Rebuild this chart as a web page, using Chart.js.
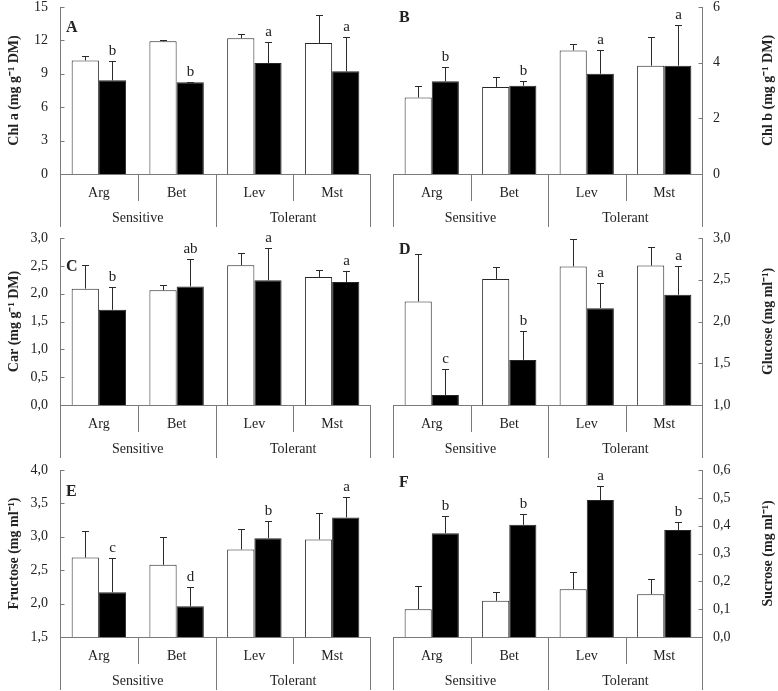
<!DOCTYPE html>
<html><head><meta charset="utf-8">
<script src="https://cdn.jsdelivr.net/npm/chart.js@4/dist/chart.umd.min.js"></script>
<style>
html,body{margin:0;padding:0;background:#fff;}
#wrap{position:relative;width:778px;height:691px;overflow:hidden;background:#fff;}
#wrap canvas{position:absolute;}
</style></head><body><div id="wrap"></div>
<script>
// ---------- DATA ----------
const categories = ['Arg', 'Bet', 'Lev', 'Mst'];
const groups = ['Sensitive', 'Tolerant'];
const groupOf = [0, 0, 1, 1];

// A: Chl a
const chlA_ticks = [0, 3, 6, 9, 12, 15];
const chlA_ctrl = [10.2, 11.92, 12.2, 11.77];
const chlA_ctrlErr = [0.37, 0.08, 0.4, 2.55];
const chlA_trt = [8.41, 8.23, 9.97, 9.22];
const chlA_trtErr = [1.7, 0.07, 1.9, 3.1];
const chlA_letters = ['b', 'b', 'a', 'a'];

// B: Chl b
const chlB_ticks = [0, 2, 4, 6];
const chlB_ctrl = [2.75, 3.13, 4.44, 3.89];
const chlB_ctrlErr = [0.4, 0.36, 0.23, 1.03];
const chlB_trt = [3.33, 3.17, 3.6, 3.89];
const chlB_trtErr = [0.51, 0.18, 0.84, 1.48];
const chlB_letters = ['b', 'b', 'a', 'a'];

// C: Car
const car_ticks = [0.0, 0.5, 1.0, 1.5, 2.0, 2.5, 3.0];
const car_ctrl = [2.09, 2.06, 2.51, 2.3];
const car_ctrlErr = [0.42, 0.1, 0.22, 0.12];
const car_trt = [1.71, 2.13, 2.24, 2.21];
const car_trtErr = [0.41, 0.49, 0.58, 0.19];
const car_letters = ['b', 'ab', 'a', 'a'];

// D: Glucose
const glu_ticks = [1.0, 1.5, 2.0, 2.5, 3.0];
const glu_ctrl = [2.24, 2.51, 2.66, 2.67];
const glu_ctrlErr = [0.57, 0.14, 0.33, 0.22];
const glu_trt = [1.12, 1.54, 2.16, 2.32];
const glu_trtErr = [0.31, 0.35, 0.3, 0.34];
const glu_letters = ['c', 'b', 'a', 'a'];

// E: Fructose
const fru_ticks = [1.5, 2.0, 2.5, 3.0, 3.5, 4.0];
const fru_ctrl = [2.69, 2.58, 2.81, 2.96];
const fru_ctrlErr = [0.4, 0.41, 0.31, 0.4];
const fru_trt = [2.17, 1.96, 2.98, 3.29];
const fru_trtErr = [0.52, 0.29, 0.26, 0.31];
const fru_letters = ['c', 'd', 'b', 'a'];

// F: Sucrose
const suc_ticks = [0.0, 0.1, 0.2, 0.3, 0.4, 0.5, 0.6];
const suc_ctrl = [0.1, 0.13, 0.172, 0.154];
const suc_ctrlErr = [0.085, 0.032, 0.063, 0.054];
const suc_trt = [0.373, 0.403, 0.492, 0.384];
const suc_trtErr = [0.062, 0.039, 0.052, 0.028];
const suc_letters = ['b', 'b', 'a', 'b'];

// ---------- LAYOUT / STYLE ----------
const FONT = "'Liberation Serif', 'Times New Roman', serif";
const AXIS_COLOR = '#7a7a7a';
const TEXT_COLOR = '#222';
const BAR_EDGE = '#262626';

const panels = [
  {label:'A', left:true,  row:0, title:'Chl a (mg g\u207B\u00B9 DM)', ticks:chlA_ticks, dec:0, ctrl:chlA_ctrl, ctrlErr:chlA_ctrlErr, trt:chlA_trt, trtErr:chlA_trtErr, letters:chlA_letters, labDy:21},
  {label:'B', left:false, row:0, title:'Chl b (mg g\u207B\u00B9 DM)', ticks:chlB_ticks, dec:0, ctrl:chlB_ctrl, ctrlErr:chlB_ctrlErr, trt:chlB_trt, trtErr:chlB_trtErr, letters:chlB_letters, labDy:11},
  {label:'C', left:true,  row:1, title:'Car (mg g\u207B\u00B9 DM)', ticks:car_ticks, dec:1, ctrl:car_ctrl, ctrlErr:car_ctrlErr, trt:car_trt, trtErr:car_trtErr, letters:car_letters, labDy:29},
  {label:'D', left:false, row:1, title:'Glucose (mg ml\u207B\u00B9)', ticks:glu_ticks, dec:1, ctrl:glu_ctrl, ctrlErr:glu_ctrlErr, trt:glu_trt, trtErr:glu_trtErr, letters:glu_letters, labDy:12},
  {label:'E', left:true,  row:2, title:'Fructose (mg ml\u207B\u00B9)', ticks:fru_ticks, dec:1, ctrl:fru_ctrl, ctrlErr:fru_ctrlErr, trt:fru_trt, trtErr:fru_trtErr, letters:fru_letters, labDy:22},
  {label:'F', left:false, row:2, title:'Sucrose (mg ml\u207B\u00B9)', ticks:suc_ticks, dec:1, ctrl:suc_ctrl, ctrlErr:suc_ctrlErr, trt:suc_trt, trtErr:suc_trtErr, letters:suc_letters, labDy:13}
];
const rowTops = [0, 231, 463];
const CANVAS_W = 390, CANVAS_H = 228;

Chart.defaults.font.family = FONT;
Chart.defaults.color = TEXT_COLOR;

const decorPlugin = {
  id: 'decor',
  afterDatasetsDraw(chart) {
    const cfg = chart.options.plugins.decor;
    const ctx = chart.ctx, xs = chart.scales.x, ys = chart.scales.y, ca = chart.chartArea;
    const n = categories.length;
    const tableBottom = ca.bottom + 53;
    ctx.save();
    ctx.lineWidth = 1;
    // error bars + letters
    chart.data.datasets.forEach((ds, di) => {
      const meta = chart.getDatasetMeta(di);
      meta.data.forEach((bar, i) => {
        const v = ds.data[i], e = ds.err[i];
        const yt = Math.round(ys.getPixelForValue(v + e)) + 0.5;
        const bx = Math.round(bar.x) + 0.5;
        ctx.strokeStyle = '#2a2a2a';
        ctx.beginPath();
        ctx.moveTo(bx, bar.y);
        ctx.lineTo(bx, yt);
        ctx.moveTo(bx - 3.5, yt);
        ctx.lineTo(bx + 3.5, yt);
        ctx.stroke();
        if (ds.letters) {
          ctx.fillStyle = TEXT_COLOR;
          ctx.font = '15px ' + FONT;
          ctx.textAlign = 'center';
          ctx.textBaseline = 'middle';
          ctx.fillText(ds.letters[i], bx, yt - 10);
        }
      });
    });
    // axes lines
    ctx.strokeStyle = AXIS_COLOR;
    ctx.beginPath();
    const by = Math.round(ca.bottom) + 0.5;
    ctx.moveTo(ca.left, by); ctx.lineTo(ca.right, by);
    const ax = cfg.left ? Math.round(ca.left) + 0.5 : Math.round(ca.right) - 0.5;
    ctx.moveTo(ax, ca.top); ctx.lineTo(ax, tableBottom);
    // inward ticks
    ys.ticks.forEach(t => {
      const ty = Math.round(ys.getPixelForValue(t.value)) + 0.5;
      if (cfg.left) { ctx.moveTo(ax, ty); ctx.lineTo(ax + 4, ty); }
      else { ctx.moveTo(ax, ty); ctx.lineTo(ax - 4, ty); }
    });
    // category table boundaries
    for (let i = 0; i <= n; i++) {
      let bx;
      if (i === 0) bx = ca.left; else if (i === n) bx = ca.right;
      else bx = (xs.getPixelForValue(i - 1) + xs.getPixelForValue(i)) / 2;
      bx = Math.round(bx) + 0.5;
      if (i === n) bx -= 1;
      const long = (i === 0 || i === n || groupOf[i - 1] !== groupOf[i]);
      ctx.moveTo(bx, ca.bottom);
      ctx.lineTo(bx, long ? tableBottom : ca.bottom + 27);
    }
    ctx.stroke();
    // group labels
    ctx.fillStyle = TEXT_COLOR;
    ctx.font = '14px ' + FONT;
    ctx.textAlign = 'center';
    ctx.textBaseline = 'middle';
    groups.forEach((g, gi) => {
      const idx = groupOf.map((v, i) => v === gi ? i : -1).filter(i => i >= 0);
      const first = idx[0], last = idx[idx.length - 1];
      const l = first === 0 ? ca.left : (xs.getPixelForValue(first - 1) + xs.getPixelForValue(first)) / 2;
      const r = last === n - 1 ? ca.right : (xs.getPixelForValue(last) + xs.getPixelForValue(last + 1)) / 2;
      ctx.fillText(g, (l + r) / 2, ca.bottom + 44);
    });
    // right-side axis title, reading bottom to top
    if (!cfg.left) {
      ctx.save();
      ctx.font = 'bold 14px ' + FONT;
      ctx.translate(ca.right + 65, (ca.top + ca.bottom) / 2);
      ctx.rotate(-Math.PI / 2);
      ctx.textAlign = 'center';
      ctx.textBaseline = 'middle';
      ctx.fillText(cfg.title, 0, 0);
      ctx.restore();
    }
    // panel letter
    ctx.font = 'bold 16px ' + FONT;
    ctx.textAlign = 'left';
    ctx.textBaseline = 'middle';
    ctx.fillText(cfg.label, ca.left + 6, ca.top + cfg.labDy);
    ctx.restore();
  }
};

const wrap = document.getElementById('wrap');
panels.forEach(p => {
  const cv = document.createElement('canvas');
  cv.width = CANVAS_W; cv.height = CANVAS_H;
  cv.style.width = CANVAS_W + 'px'; cv.style.height = CANVAS_H + 'px';
  cv.style.left = (p.left ? 0 : 388) + 'px';
  cv.style.top = rowTops[p.row] + 'px';
  wrap.appendChild(cv);
  const tmin = p.ticks[0], tmax = p.ticks[p.ticks.length - 1];
  const step = p.ticks[1] - p.ticks[0];
  new Chart(cv, {
    type: 'bar',
    data: {
      labels: categories,
      datasets: [
        {data: p.ctrl, err: p.ctrlErr, backgroundColor: '#ffffff', borderColor: BAR_EDGE, borderWidth: 1},
        {data: p.trt, err: p.trtErr, letters: p.letters, backgroundColor: '#000000', borderColor: BAR_EDGE, borderWidth: 1}
      ]
    },
    options: {
      responsive: false,
      animation: false,
      devicePixelRatio: 1,
      categoryPercentage: 0.7,
      barPercentage: 1.0,
      layout: {padding: p.left ? {left: 0, right: 19, top: 7, bottom: 0} : {left: 5, right: 0, top: 7, bottom: 0}},
      plugins: {
        legend: {display: false},
        tooltip: {enabled: false},
        decor: {left: p.left, label: p.label, labDy: p.labDy, title: p.title}
      },
      scales: {
        x: {
          grid: {display: false, drawTicks: false},
          border: {display: false},
          ticks: {font: {size: 14}, padding: 11, color: TEXT_COLOR},
          afterFit: s => { s.height = 54; s.paddingLeft = 0; s.paddingRight = 0; }
        },
        y: {
          position: p.left ? 'left' : 'right',
          min: tmin, max: tmax,
          grid: {display: false, drawTicks: false},
          border: {display: false},
          ticks: {
            stepSize: step,
            font: {size: 14},
            padding: p.left ? 12 : 10,
            color: TEXT_COLOR,
            callback: v => Number(v).toFixed(p.dec).replace('.', ',')
          },
          title: {display: p.left, text: p.title, font: {size: 14, weight: 'bold'}, color: TEXT_COLOR, padding: {top: 6, bottom: 2}},
          afterFit: s => { s.width = p.left ? 60 : 75; s.paddingTop = 0; s.paddingBottom = 0; }
        }
      }
    },
    plugins: [decorPlugin]
  });
});
</script>
</body></html>
